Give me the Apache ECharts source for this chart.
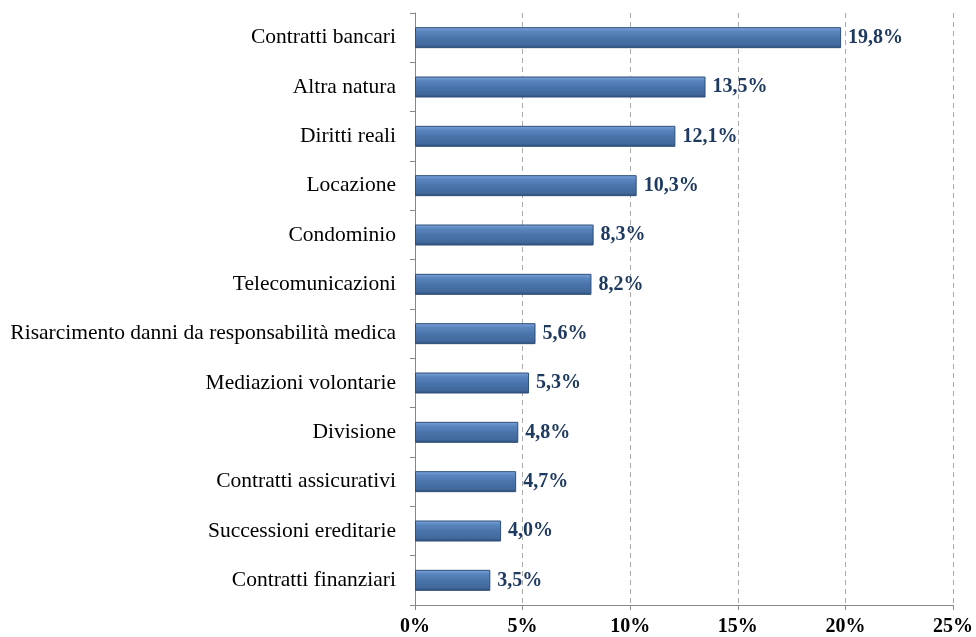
<!DOCTYPE html>
<html><head><meta charset="utf-8">
<script src="https://cdn.jsdelivr.net/npm/echarts@6/dist/echarts.min.js"></script>
<style>html,body{margin:0;padding:0;background:#fff}#c{width:976px;height:637px}</style>
</head><body><div id="c"></div>
<script>
const categories = ["Contratti bancari","Altra natura","Diritti reali","Locazione","Condominio","Telecomunicazioni","Risarcimento danni da responsabilità medica","Mediazioni volontarie","Divisione","Contratti assicurativi","Successioni ereditarie","Contratti finanziari"];
const values = [19.8,13.5,12.1,10.3,8.3,8.2,5.6,5.3,4.8,4.7,4.0,3.5];
const ticks = [0,5,10,15,20,25];
const font = '"Liberation Serif","Times New Roman",serif';
const chart = echarts.init(document.getElementById('c'));
chart.setOption({
  animation:false,
  grid:{left:415,right:22,top:13,bottom:31,containLabel:false},
  xAxis:{type:'value',min:0,max:25,interval:5,
    axisLine:{show:true,lineStyle:{color:'#888'}},
    axisTick:{show:true,length:5,lineStyle:{color:'#888'}},
    splitLine:{show:true,lineStyle:{color:'#aaa',type:[5,4]}},
    axisLabel:{fontFamily:font,fontSize:20,fontWeight:'bold',color:'#000',margin:12,formatter:v=>v+'%'}},
  yAxis:{type:'category',data:categories,inverse:true,
    axisLine:{show:true,lineStyle:{color:'#888'}},
    axisTick:{show:true,length:5,lineStyle:{color:'#888'}},
    axisLabel:{fontFamily:font,fontSize:21.5,color:'#000',margin:19}},
  series:[{type:'bar',data:values,barWidth:21,
    itemStyle:{borderColor:'#2f4f7a',borderWidth:1,
      color:new echarts.graphic.LinearGradient(0,0,0,1,[
        {offset:0,color:'#7ea6d8'},{offset:0.2,color:'#5a86c0'},{offset:0.5,color:'#4a74ab'},{offset:0.85,color:'#41699c'},{offset:1,color:'#2c4b74'}])},
    label:{show:true,position:'right',distance:7,fontFamily:font,fontSize:20,fontWeight:'bold',color:'#1f3a60',
      formatter:p=>p.value.toFixed(1).replace('.',',')+'%'}}]
});
</script></body></html>
